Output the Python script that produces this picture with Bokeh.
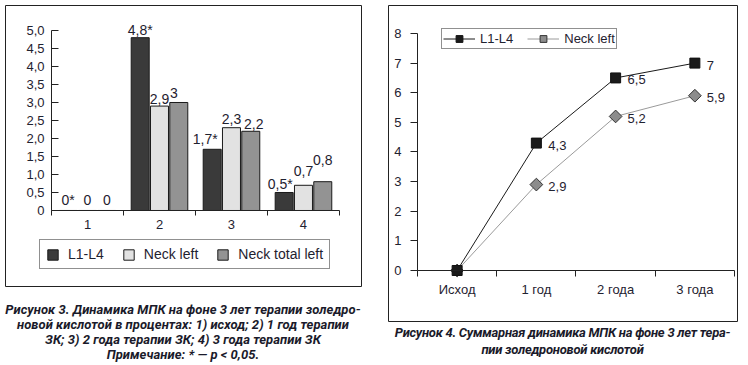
from bokeh.plotting import figure
from bokeh.models import (ColumnDataSource, FixedTicker, Legend, LegendItem, Div, Range1d, Spacer)
from bokeh.layouts import row, column
from bokeh.transform import dodge
from bokeh.core.properties import value
from bokeh.embed import file_html
from bokeh.resources import INLINE
import math

# ---------------- Figure 3 data ----------------
groups = ["1", "2", "3", "4"]
l1_l4 = [0, 4.8, 1.7, 0.5]
neck_left = [0, 2.9, 2.3, 0.7]
neck_total_left = [0, 3.0, 2.2, 0.8]
l1_l4_labels = ["0*", "4,8*", "1,7*", "0,5*"]
neck_left_labels = ["0", "2,9", "2,3", "0,7"]
neck_total_left_labels = ["0", "3", "2,2", "0,8"]
y3_ticks = [0, 0.5, 1.0, 1.5, 2.0, 2.5, 3.0, 3.5, 4.0, 4.5, 5.0]
y3_tick_labels = ["0", "0,5", "1,0", "1,5", "2,0", "2,5", "3,0", "3,5", "4,0", "4,5", "5,0"]

# ---------------- Figure 4 data ----------------
periods = ["Исход", "1 год", "2 года", "3 года"]
sum_l1_l4 = [0, 4.3, 6.5, 7]
sum_neck_left = [0, 2.9, 5.2, 5.9]
sum_l1_l4_labels = ["", "4,3", "6,5", "7"]
sum_neck_left_labels = ["", "2,9", "5,2", "5,9"]
y4_ticks = [0, 1, 2, 3, 4, 5, 6, 7, 8]

FONT = "Liberation Sans"
TXT = "#1f2230"


def style_axis(ax):
    ax.axis_line_color = "#222"
    ax.major_tick_line_color = "#222"
    ax.minor_tick_line_color = "#222"
    ax.major_label_text_font = FONT
    ax.major_label_text_font_size = "13px"
    ax.major_label_text_color = TXT


def boxed_figure(w, h, xr, yr):
    # the plot frame fills the framed box; axes sit at fixed data locations inside it
    p = figure(width=w, height=h, x_range=Range1d(*xr), y_range=Range1d(*yr),
               output_backend="svg", toolbar_location=None, title=None,
               min_border_left=1, min_border_right=1, min_border_top=1, min_border_bottom=1)
    p.outline_line_color = "#222"
    p.outline_line_width = 1
    p.xgrid.visible = False
    p.ygrid.visible = False
    return p


# label placement (styling): pixel lift above bar top and horizontal nudge
lift1, nudge1 = [10, 8, 10, 8], [0, 0, -7, -4]
lift2, nudge2 = [10, 7, 9, 14], [0, 0, 0, 0]
lift3, nudge3 = [10, 9, 7, 22], [0, -5, 3, 0]

xpos = list(range(1, len(groups) + 1))
src3 = ColumnDataSource(dict(
    x=xpos, l1=l1_l4, nl=neck_left, ntl=neck_total_left,
    l1_lab=l1_l4_labels, nl_lab=neck_left_labels, ntl_lab=neck_total_left_labels,
    l1_dy=[-v for v in lift1], nl_dy=[-v for v in lift2], ntl_dy=[-v for v in lift3],
    l1_dx=nudge1, nl_dx=nudge2, ntl_dx=nudge3,
))

W1, H1 = 358, 283
p1 = boxed_figure(W1, H1, (-0.139, 4.806), (-2.111, 5.694))

W, D = 0.25, 0.268
r1 = p1.vbar(x=dodge("x", -D), top="l1", width=W, source=src3,
             fill_color="#3a3a3a", line_color="#1a1a1a", line_width=1)
r2 = p1.vbar(x=dodge("x", 0), top="nl", width=W, source=src3,
             fill_color="#e2e2e2", line_color="#1a1a1a", line_width=1)
r3 = p1.vbar(x=dodge("x", D), top="ntl", width=W, source=src3,
             fill_color="#939393", line_color="#1a1a1a", line_width=1)

for off, col, dy, dx in [(-D, "l1", "l1_dy", "l1_dx"), (0, "nl", "nl_dy", "nl_dx"), (D, "ntl", "ntl_dy", "ntl_dx")]:
    p1.text(x=dodge("x", off), y=col, text=col + "_lab", source=src3,
            x_offset=dx, y_offset=dy, text_align="center", text_baseline="alphabetic",
            text_font=value(FONT), text_font_size="14px", text_color=TXT)

p1.yaxis.fixed_location = 0.5
p1.yaxis.bounds = (0, 5)
p1.yaxis.ticker = FixedTicker(ticks=y3_ticks, minor_ticks=[])
p1.yaxis.major_label_overrides = {t: l for t, l in zip(y3_ticks, y3_tick_labels)}
p1.yaxis.major_tick_in = 7
p1.yaxis.major_tick_out = 0
p1.yaxis.minor_tick_in = 0
p1.yaxis.minor_tick_out = 0
p1.yaxis.major_label_standoff = 7

p1.xaxis.fixed_location = 0
p1.xaxis.bounds = (0.5, 4.5)
p1.xaxis.ticker = FixedTicker(ticks=xpos, minor_ticks=[v + 0.5 for v in [0] + xpos])
p1.xaxis.major_label_overrides = {x: g for x, g in zip(xpos, groups)}
p1.xaxis.major_tick_in = 0
p1.xaxis.major_tick_out = 0
p1.xaxis.minor_tick_in = 0
p1.xaxis.minor_tick_out = 5
p1.xaxis.major_label_standoff = 5
style_axis(p1.xaxis[0])
style_axis(p1.yaxis[0])

leg1 = Legend(items=[LegendItem(label="L1-L4", renderers=[r1]),
                     LegendItem(label="Neck left", renderers=[r2]),
                     LegendItem(label="Neck total left", renderers=[r3])],
              orientation="horizontal", location=(34, 17))
leg1.border_line_color = "#222"
leg1.border_line_width = 1
leg1.glyph_width = 13
leg1.glyph_height = 13
leg1.label_height = 14
leg1.label_standoff = 9
leg1.spacing = 18
leg1.padding = 6
leg1.margin = 0
leg1.label_text_font = FONT
leg1.label_text_font_size = "14px"
leg1.label_text_color = TXT
p1.add_layout(leg1)

# ---------------- Figure 4 ----------------
src4 = ColumnDataSource(dict(x=xpos, a=sum_l1_l4, b=sum_neck_left,
                             a_lab=sum_l1_l4_labels, b_lab=sum_neck_left_labels))

W2, H2 = 351, 318
p2 = boxed_figure(W2, H2, (0.134, 4.538), (-1.722, 8.945))

la = p2.line("x", "a", source=src4, line_color="#1a1a1a", line_width=1)
lb = p2.line("x", "b", source=src4, line_color="#9a9a9a", line_width=1)
sb = p2.scatter("x", "b", source=src4, marker="square", angle=math.pi / 4, size=9,
                fill_color="#8c8c8c", line_color="#333", line_width=1)
sa = p2.scatter("x", "a", source=src4, marker="square", size=10,
                fill_color="#1a1a1a", line_color="#111", line_width=1)

for col in ("a", "b"):
    p2.text("x", col, text=col + "_lab", source=src4, x_offset=12, y_offset=2,
            text_align="left", text_baseline="middle", text_font=value(FONT),
            text_font_size="13px", text_color=TXT)

p2.yaxis.fixed_location = 0.5
p2.yaxis.bounds = (0, 8)
p2.yaxis.ticker = FixedTicker(ticks=y4_ticks, minor_ticks=[])
p2.yaxis.major_tick_in = 0
p2.yaxis.major_tick_out = 7
p2.yaxis.minor_tick_in = 0
p2.yaxis.minor_tick_out = 0
p2.yaxis.major_label_standoff = 9

p2.xaxis.fixed_location = 0
p2.xaxis.bounds = (0.5, 4.5)
p2.xaxis.ticker = FixedTicker(ticks=xpos, minor_ticks=[v + 0.5 for v in [0] + xpos])
p2.xaxis.major_label_overrides = {x: g for x, g in zip(xpos, periods)}
p2.xaxis.major_tick_in = 0
p2.xaxis.major_tick_out = 0
p2.xaxis.minor_tick_in = 0
p2.xaxis.minor_tick_out = 6
p2.xaxis.major_label_standoff = 6
style_axis(p2.xaxis[0])
style_axis(p2.yaxis[0])

leg2 = Legend(items=[LegendItem(label="L1-L4", renderers=[la, sa]),
                     LegendItem(label="Neck left", renderers=[lb, sb])],
              orientation="horizontal", location=(53, 272))
leg2.border_line_color = "#222"
leg2.border_line_width = 1
leg2.glyph_width = 32
leg2.glyph_height = 17
leg2.label_height = 17
leg2.label_standoff = 5
leg2.spacing = 14
leg2.padding = 1
leg2.margin = 0
leg2.label_text_font = FONT
leg2.label_text_font_size = "13px"
leg2.label_text_color = TXT
p2.add_layout(leg2)

CAP = {"font-family": "Roboto", "font-weight": "bold", "font-style": "italic",
       "font-size": "13px", "text-align": "center", "color": "#1a1a2a",
       "white-space": "nowrap", "box-sizing": "border-box"}

cap1 = Div(text="Рисунок 3. Динамика МПК на фоне 3 лет терапии золедро-<br>"
                "новой кислотой в процентах: 1) исход; 2) 1 год терапии<br>"
                "ЗК; 3) 2 года терапии ЗК; 4) 3 года терапии ЗК<br>"
                "Примечание: * — p &lt; 0,05.",
           width=W1, height=70, margin=0,
           styles=dict(CAP, **{"line-height": "15px", "padding-top": "15px",
                               "letter-spacing": "0.05px"}))
cap2 = Div(text="Рисунок 4. Суммарная динамика МПК на фоне 3 лет тера-<br>"
                "пии золедроновой кислотой",
           width=W2, height=36, margin=0,
           styles=dict(CAP, **{"line-height": "17px", "padding-top": "2px",
                               "letter-spacing": "-0.25px"}))

col1 = column(Spacer(width=W1, height=4), p1, cap1, spacing=0)
col2 = column(Spacer(width=W2, height=4), p2, cap2, spacing=0)
layout = row(Spacer(width=4, height=10), col1, Spacer(width=25, height=10), col2,
             Spacer(width=748 - 4 - W1 - 25 - W2, height=10), spacing=0)

open("out.html", "w").write(file_html(layout, INLINE))
